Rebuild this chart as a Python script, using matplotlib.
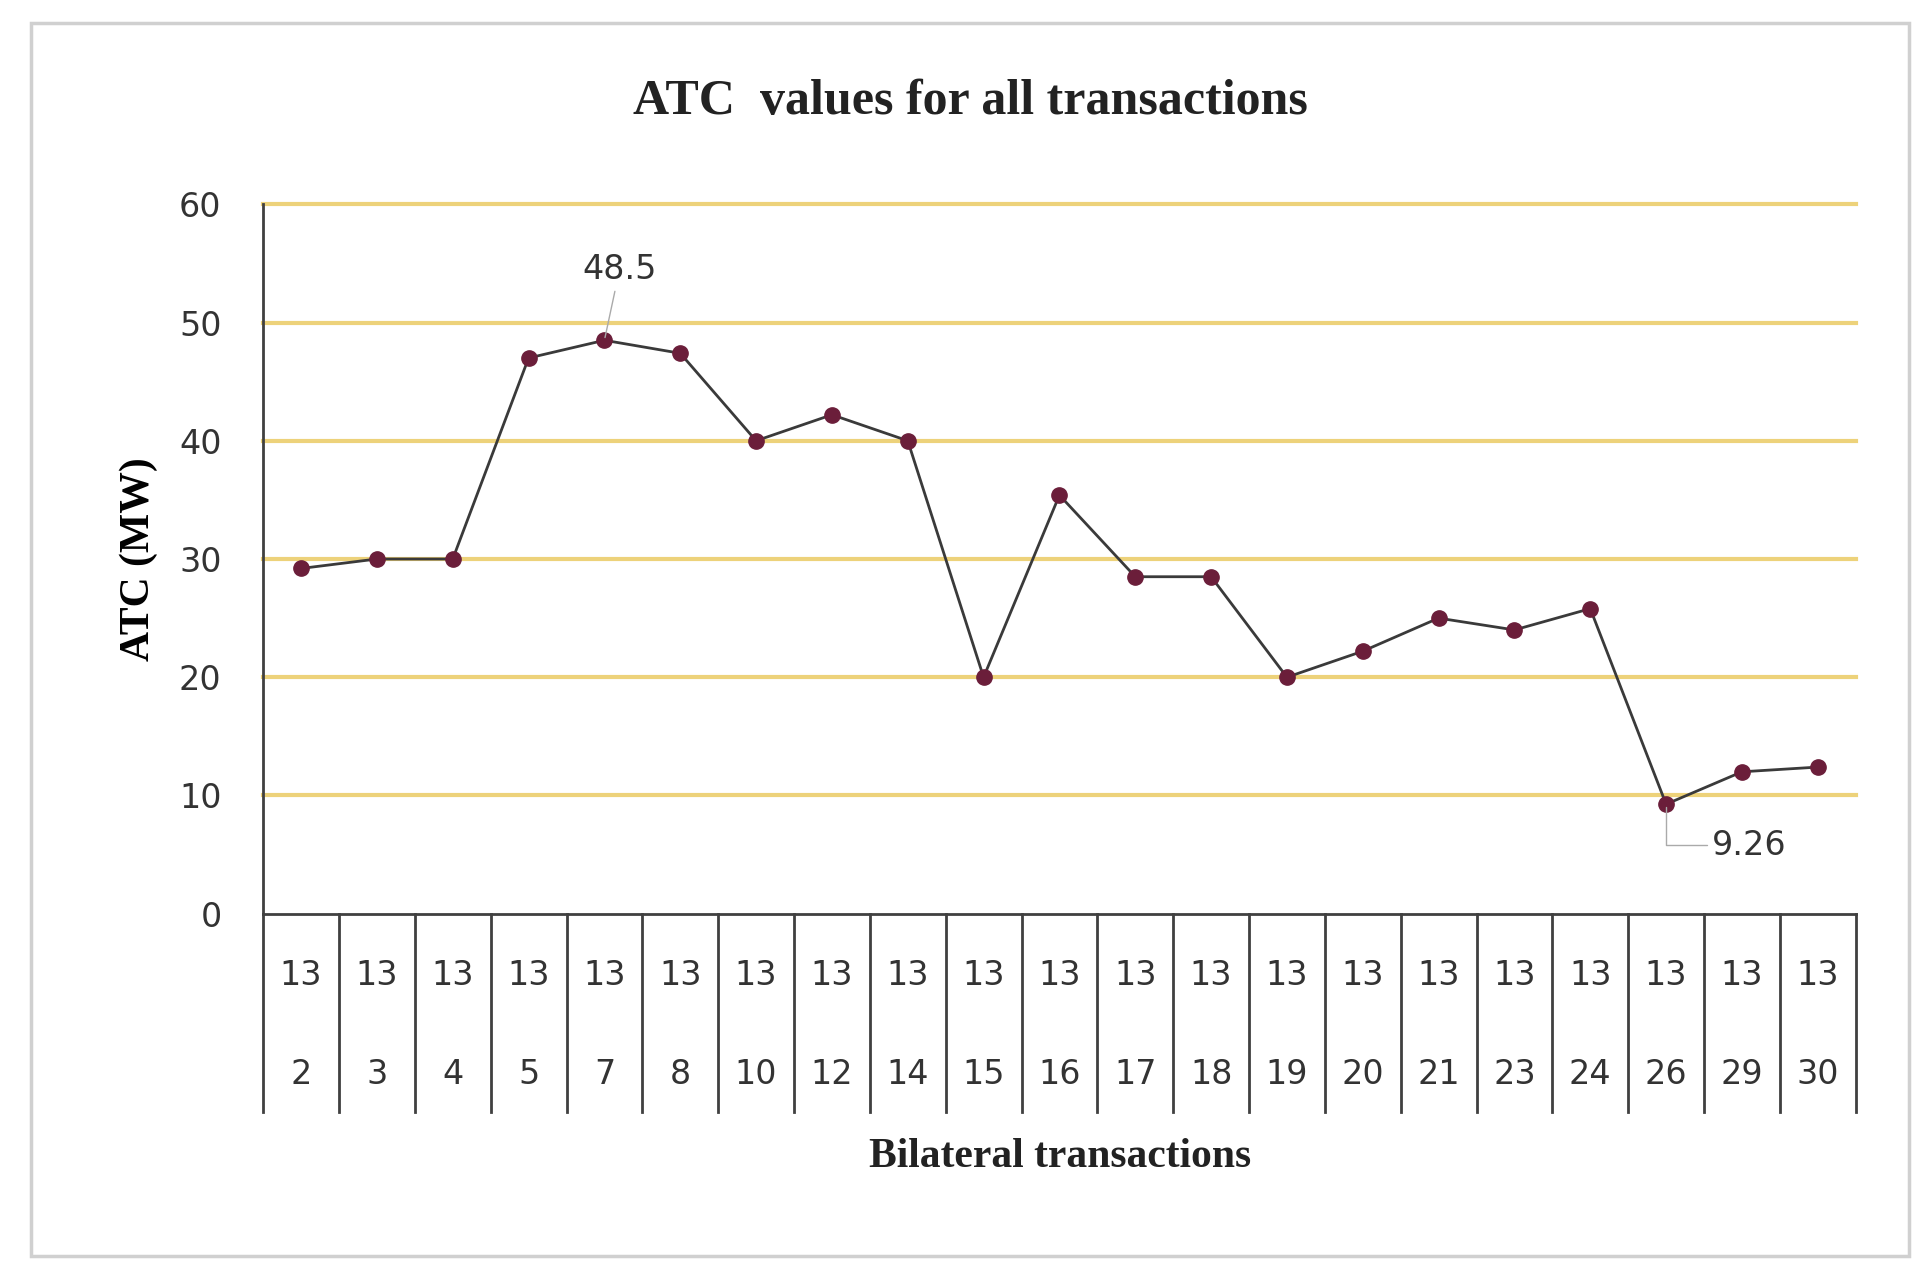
import matplotlib
matplotlib.use("Agg")
import matplotlib.pyplot as plt
from matplotlib.patches import Rectangle

top_labels = ["13"] * 21
bottom_labels = ["2","3","4","5","7","8","10","12","14","15","16","17","18","19","20","21","23","24","26","29","30"]
atc = [29.2, 30, 30, 47, 48.5, 47.4, 40, 42.2, 40, 20, 35.4, 28.5, 28.5, 20, 22.2, 25, 24, 25.8, 9.26, 12, 12.4]

fig = plt.figure(figsize=(19.21, 12.69), dpi=100)
fig.patches.append(Rectangle((0.016, 0.01), 0.978, 0.972, transform=fig.transFigure,
                             fill=False, edgecolor="#d0d0d0", linewidth=2.5))
ax = fig.add_axes([0.137, 0.28, 0.829, 0.559])
n = len(atc)
x = list(range(n))
ax.set_xlim(-0.5, n - 0.5)
ax.set_ylim(0, 60)
for y in range(10, 61, 10):
    ax.axhline(y, color="#EDD27A", linewidth=3, zorder=1, clip_on=False)
ax.plot(x, atc, color="#3a3a3a", linewidth=2, marker="o", markersize=11,
        markerfacecolor="#6B1E3A", markeredgecolor="#6B1E3A", zorder=3)
for s in ["top", "right"]:
    ax.spines[s].set_visible(False)
ax.spines["left"].set_color("#404040")
ax.spines["bottom"].set_color("#404040")
ax.spines["left"].set_linewidth(2)
ax.spines["bottom"].set_linewidth(2)
ax.set_yticks(range(0, 61, 10))
ax.tick_params(axis="y", length=0, labelsize=24, pad=30, colors="#333333")
ax.set_xticks([])
for i in range(n + 1):
    ax.plot([i - 0.5, i - 0.5], [0, -16.8], color="#404040", linewidth=2, clip_on=False)
for i in range(n):
    ax.text(i, -5.2, top_labels[i], ha="center", va="center", fontsize=24, color="#333333")
    ax.text(i, -13.6, bottom_labels[i], ha="center", va="center", fontsize=24, color="#333333")
ax.annotate("48.5", xy=(4, 48.5), xytext=(4.2, 54.5), ha="center", va="center", fontsize=24,
            color="#333333", arrowprops=dict(arrowstyle="-", color="#aaaaaa", lw=1))
ax.annotate("9.26", xy=(18, 9.26), xytext=(19.1, 5.8), ha="center", va="center", fontsize=24,
            color="#333333", arrowprops=dict(arrowstyle="-", color="#aaaaaa", lw=1,
                                             connectionstyle="angle,angleA=0,angleB=90"))
ax.set_ylabel("ATC (MW)", fontsize=30, fontweight="bold", family="Liberation Serif", labelpad=15)
fig.text(0.552, 0.088, "Bilateral transactions", ha="center", va="center", fontsize=30,
         fontweight="bold", family="Liberation Serif", color="#222222")
fig.text(0.505, 0.92, "ATC  values for all transactions", ha="center", va="center", fontsize=36,
         fontweight="bold", family="Liberation Serif", color="#222222")
fig.savefig("out.png", dpi=100)
